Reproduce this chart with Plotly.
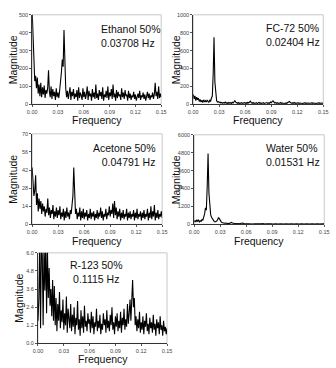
import plotly.graph_objects as go

W, H = 336, 368
FREQ_STEP = 0.001
N_BINS = 151
freqs = [round(i * FREQ_STEP, 3) for i in range(N_BINS)]

x_tickvals = [0.0, 0.03, 0.06, 0.09, 0.12, 0.15]
x_ticktext = ["0.00", "0.03", "0.06", "0.09", "0.12", "0.15"]

ethanol = [520, 350, 250, 130, 160, 90, 150, 60, 110, 45,
           120, 40, 95, 55, 105, 35, 80, 60, 90, 190,
           70, 40, 100, 30, 85, 45, 70, 25, 90, 40,
           65, 35, 80, 120, 180, 250, 210, 415, 160, 90,
           40, 75, 30, 60, 95, 25, 70, 45, 85, 30,
           60, 40, 80, 20, 95, 35, 65, 50, 25, 90,
           40, 70, 30, 55, 100, 25, 75, 45, 60, 20,
           85, 40, 65, 30, 110, 35, 60, 25, 80, 45,
           70, 30, 95, 20, 55, 40, 75, 35, 100, 25,
           65, 45, 85, 30, 110, 40, 60, 20, 80, 35,
           70, 45, 55, 25, 90, 40, 65, 30, 80, 45,
           55, 20, 75, 35, 60, 25, 50, 40, 70, 30,
           55, 20, 45, 60, 35, 75, 25, 50, 40, 65,
           30, 55, 20, 45, 70, 35, 60, 25, 50, 40,
           65, 30, 55, 120, 45, 70, 30, 100, 35, 60, 40]

fc72 = [110, 60, 95, 40, 80, 50, 70, 30, 55, 25,
        45, 20, 50, 30, 40, 25, 45, 35, 20, 50,
        30, 70, 90, 330, 750, 250, 80, 40, 25, 30,
        20, 25, 15, 22, 12, 20, 15, 25, 12, 18,
        10, 20, 14, 18, 10, 22, 15, 30, 40, 25,
        18, 12, 20, 10, 16, 12, 18, 10, 15, 20,
        12, 18, 10, 22, 15, 25, 35, 18, 12, 20,
        10, 15, 12, 18, 10, 14, 20, 12, 16, 10,
        14, 18, 10, 15, 12, 20, 10, 16, 12, 25,
        18, 30, 40, 28, 15, 20, 12, 18, 10, 15,
        12, 20, 10, 14, 12, 18, 10, 16, 12, 20,
        25, 32, 20, 15, 10, 18, 12, 20, 10, 15,
        12, 18, 10, 14, 12, 16, 10, 15, 12, 18,
        10, 14, 12, 16, 10, 13, 12, 18, 10, 14,
        12, 16, 10, 15, 12, 18, 10, 14, 12, 16, 12]

acetone = [44, 30, 22, 26, 38, 15, 24, 10, 20, 12,
           18, 8, 16, 10, 14, 6, 12, 9, 20, 7,
           13, 5, 11, 8, 15, 4, 10, 6, 13, 5,
           11, 7, 14, 4, 9, 6, 12, 3, 10, 5,
           13, 6, 9, 4, 11, 8, 15, 22, 44, 18,
           8, 12, 4, 9, 6, 13, 3, 10, 5, 12,
           4, 9, 6, 11, 3, 8, 5, 12, 4, 9,
           6, 10, 3, 8, 5, 11, 4, 9, 6, 13,
           5, 10, 3, 8, 6, 12, 4, 9, 7, 14,
           6, 11, 8, 16, 5, 18, 7, 13, 4, 10,
           6, 12, 3, 9, 5, 11, 4, 8, 6, 12,
           3, 9, 5, 10, 4, 8, 6, 11, 3, 9,
           5, 12, 4, 8, 6, 10, 3, 9, 5, 11,
           4, 8, 6, 12, 3, 9, 5, 14, 4, 10,
           6, 15, 3, 9, 5, 11, 4, 8, 6, 10, 5]

water = [150, 250, 180, 300, 200, 280, 160, 240, 200, 320,
         280, 450, 700, 1100, 950, 2500, 4750, 2100, 1000, 650,
         480, 350, 250, 200, 160, 180, 220, 300, 460, 380,
         250, 180, 120, 90, 110, 70, 90, 60, 80, 50,
         70, 60, 110, 130, 90, 70, 50, 60, 40, 55,
         35, 50, 40, 60, 80, 120, 90, 60, 45, 55,
         35, 45, 30, 40, 30, 45, 30, 40, 25, 35,
         30, 40, 25, 35, 30, 40, 25, 35, 30, 45,
         25, 35, 20, 40, 30, 35, 25, 40, 20, 30,
         25, 35, 20, 30, 25, 40, 20, 30, 25, 35,
         20, 30, 25, 35, 20, 30, 25, 40, 20, 30,
         25, 35, 20, 30, 25, 35, 20, 30, 25, 35,
         20, 30, 25, 35, 20, 30, 25, 35, 20, 30,
         25, 35, 20, 30, 25, 35, 20, 30, 25, 35,
         20, 30, 25, 35, 20, 30, 25, 35, 20, 30, 25]

r123 = [1.5, 3.0, 6.5, 1.0, 7.0, 5.8, 1.2, 6.5, 3.5, 7.0,
        2.0, 6.2, 3.0, 5.0, 2.5, 3.6, 1.8, 4.2, 1.5, 3.8,
        1.2, 3.0, 0.8, 2.6, 1.5, 3.4, 1.0, 2.2, 1.4, 2.9,
        0.9, 2.0, 1.2, 3.1, 0.7, 2.3, 1.5, 1.0, 2.6, 0.8,
        1.9, 1.1, 2.4, 0.6, 1.7, 1.2, 2.8, 0.9, 1.6, 0.5,
        2.2, 1.0, 1.8, 0.7, 2.5, 1.1, 1.5, 0.8, 2.0, 1.3,
        1.6, 0.7, 2.1, 1.0, 1.8, 0.6, 1.4, 1.1, 2.3, 0.8,
        1.5, 1.0, 1.9, 0.6, 1.3, 0.9, 2.0, 1.2, 1.6, 0.7,
        2.2, 1.0, 1.5, 0.8, 1.9, 1.2, 2.4, 0.9, 1.4, 0.6,
        1.8, 1.1, 2.0, 0.8, 1.5, 1.0, 2.1, 0.7, 1.7, 1.2,
        2.3, 0.9, 1.6, 1.1, 2.6, 1.3, 2.0, 2.9, 1.5, 3.3,
        4.2, 2.4, 3.0, 1.2, 1.8, 0.8, 1.6, 1.0, 2.1, 0.7,
        1.4, 0.9, 1.8, 0.6, 1.5, 1.1, 2.0, 0.8, 1.3, 0.6,
        1.7, 1.0, 1.4, 0.7, 1.9, 0.9, 1.3, 0.5, 1.6, 1.0,
        1.4, 0.6, 1.8, 0.9, 1.2, 0.5, 1.5, 0.8, 1.1, 0.6, 1.0]

panels = [
    dict(y=ethanol, ymax=500, yticks=[0, 100, 200, 300, 400, 500],
         yticktext=["0", "100", "200", "300", "400", "500"],
         label=["Ethanol 50%", "0.03708 Hz"], box=(28, 161, 12, 103),
         txt=(97, 18), align="left", magx=8, freqy=119),
    dict(y=fc72, ymax=1000, yticks=[0, 200, 400, 600, 800, 1000],
         yticktext=["0", "200", "400", "600", "800", "1000"],
         label=["FC-72 50%", "0.02404 Hz"], box=(194, 328, 12, 103),
         txt=(267, 17), align="left", magx=176, freqy=119),
    dict(y=acetone, ymax=70, yticks=[0, 14, 28, 42, 56, 70],
         yticktext=["0", "14", "28", "42", "56", "70"],
         label=["Acetone 50%", "0.04791 Hz"], box=(28, 162, 133, 225),
         txt=(157, 139), align="right", magx=8, freqy=242),
    dict(y=water, ymax=6000, yticks=[0, 1200, 2400, 3600, 4800, 6000],
         yticktext=["0", "1200", "2400", "3600", "4800", "6000"],
         label=["Water 50%", "0.01531 Hz"], box=(195, 329, 134, 225),
         txt=(267, 139), align="left", magx=176, freqy=242),
    dict(y=r123, ymax=6.0, yticks=[0, 1.2, 2.4, 3.6, 4.8, 6.0],
         yticktext=["0.0", "1.2", "2.4", "3.6", "4.8", "6.0"],
         label=["R-123 50%", "0.1115 Hz"], box=(34, 167, 254, 346),
         txt=(94, 258), align="center", magx=15, freqy=362),
]

FONT = "Liberation Sans, Arial, sans-serif"

def px_x(v):
    return v / W

def px_y(v):
    return 1 - v / H

fig = go.Figure()
layout = dict(
    width=W, height=H, margin=dict(l=0, r=0, t=0, b=0),
    paper_bgcolor="white", plot_bgcolor="white", showlegend=False,
    font=dict(family=FONT, color="#222"),
)
annotations = []
shapes = []
for k, p in enumerate(panels, start=1):
    xa = "xaxis" if k == 1 else f"xaxis{k}"
    ya = "yaxis" if k == 1 else f"yaxis{k}"
    xr = "x" if k == 1 else f"x{k}"
    yr = "y" if k == 1 else f"y{k}"
    x0, x1, y0, y1 = p["box"]
    fig.add_trace(go.Scatter(x=freqs, y=p["y"], mode="lines",
                             line=dict(color="black", width=1.1),
                             xaxis=xr, yaxis=yr, hoverinfo="skip"))
    layout[xa] = dict(domain=[px_x(x0), px_x(x1)], anchor=yr, range=[0, 0.15],
                      tickvals=x_tickvals, ticktext=x_ticktext,
                      showgrid=False, zeroline=False, showline=True,
                      linecolor="#333", linewidth=1, ticks="outside", ticklen=2,
                      tickcolor="#555", tickfont=dict(size=5.5, color="#444"))
    layout[ya] = dict(domain=[px_y(y1), px_y(y0)], anchor=xr,
                      range=[0, p["ymax"]], tickvals=p["yticks"],
                      ticktext=p["yticktext"], showgrid=False, zeroline=False,
                      showline=True, linecolor="#333", linewidth=1,
                      ticks="outside", ticklen=2, tickcolor="#555",
                      tickfont=dict(size=5.5, color="#444"))
    shapes.append(dict(type="rect", xref=f"{xr} domain", yref=f"{yr} domain",
                       x0=0, x1=1, y0=0, y1=1,
                       line=dict(color="#c8c8c8", width=1), layer="below"))
    tx, ty = p["txt"]
    xanchor = {"left": "left", "right": "right", "center": "center"}[p["align"]]
    annotations.append(dict(text="<br>".join(p["label"]), xref="paper", yref="paper",
                            x=px_x(tx), y=px_y(ty), xanchor=xanchor, yanchor="top",
                            align=p["align"], showarrow=False,
                            font=dict(size=10.5, color="#111", family=FONT)))
    annotations.append(dict(text="Magnitude", xref="paper", yref="paper",
                            x=px_x(p["magx"]), y=px_y((y0 + y1) / 2),
                            xanchor="center", yanchor="middle", textangle=-90,
                            showarrow=False,
                            font=dict(size=10.5, color="#111", family=FONT)))
    annotations.append(dict(text="Frequency", xref="paper", yref="paper",
                            x=px_x((x0 + x1) / 2), y=px_y(p["freqy"]),
                            xanchor="center", yanchor="middle", showarrow=False,
                            font=dict(size=10.5, color="#111", family=FONT)))

layout["annotations"] = annotations
layout["shapes"] = shapes
fig.update_layout(**layout)
fig.write_html("out.html")
